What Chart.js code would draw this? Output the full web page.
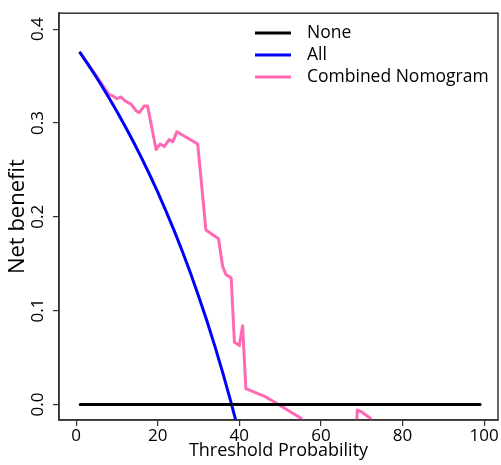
<!DOCTYPE html>
<html>
<head>
<meta charset="utf-8">
<script src="https://cdn.jsdelivr.net/npm/chart.js@4/dist/chart.umd.min.js"></script>
<style>
  html, body { margin: 0; padding: 0; background: #fff; }
</style>
</head>
<body>
<canvas id="dca" width="501" height="465"></canvas>
<script>
// values
var seriesNames = ["None", "All", "Combined Nomogram"];
var seriesColors = ["#000000", "#0000ff", "#ff69b4"];

var noneThr = [1, 99];
var noneNB = [0, 0];

var allThr = [1, 2, 3, 4, 5, 6, 7, 8, 9, 10, 12, 14, 16, 18, 20, 22, 24, 26, 28, 30, 32, 34, 36, 38, 40, 42];
var allNB = [0.3747, 0.3684, 0.3619, 0.3552, 0.3484, 0.3415, 0.3344, 0.3272, 0.3198, 0.3122,
  0.2966, 0.2802, 0.2631, 0.2451, 0.2263, 0.2064, 0.1855, 0.1635, 0.1403, 0.1157,
  0.0897, 0.0621, 0.0328, 0.0016, -0.0317, -0.0672];

var nomoThr = [1, 3, 5, 8, 9, 10, 11, 12, 13.5, 14.7, 15.5, 16.7, 17.5, 19.6, 20.6, 21.6, 22.8, 23.7, 24.7,
  29.8, 31.8, 34.9, 35.9, 36.7, 38, 38.8, 40, 40.8, 41.6, 46.5, 49.8, 55.1, 57, 68.5, 68.9, 70, 72.1, 74];
var nomoNB = [0.3747, 0.362, 0.350, 0.3304, 0.3288, 0.3259, 0.3277, 0.3235, 0.3199, 0.3129, 0.3111, 0.3182, 0.3182,
  0.2717, 0.2776, 0.2748, 0.2822, 0.2801, 0.2907, 0.2776, 0.186, 0.1765, 0.1473, 0.1385, 0.1349, 0.0662,
  0.0627, 0.0838, 0.0169, 0.008, -0.0007, -0.0148, -0.025, -0.05, -0.006, -0.008, -0.0148, -0.03];

var xTicks = [0, 20, 40, 60, 80, 100];
var yTicks = [0, 0.1, 0.2, 0.3, 0.4];

var toPoints = (xs, ys) => xs.map((x, i) => ({ x: x, y: ys[i] }));

var boxPlugin = {
  id: "box",
  afterDraw: (chart) => {
    var ctx = chart.ctx;
    var a = chart.chartArea;
    ctx.save();
    ctx.strokeStyle = "#333";
    ctx.lineWidth = 1.5;
    ctx.strokeRect(a.left, a.top, a.right - a.left, a.bottom - a.top);
    ctx.restore();
  }
};

// legend drawn inside the plot, top right like the R output
var legendPlugin = {
  id: "insideLegend",
  afterDraw: (chart) => {
    var ctx = chart.ctx;
    ctx.save();
    ctx.font = "17.5px 'Open Sans'";
    ctx.textBaseline = "middle";
    ctx.fillStyle = "#000";
    ctx.lineWidth = 3;
    seriesNames.forEach((name, i) => {
      var y = 33 + i * 22;
      ctx.strokeStyle = seriesColors[i];
      ctx.beginPath();
      ctx.moveTo(255, y);
      ctx.lineTo(291, y);
      ctx.stroke();
      ctx.fillText(name, 307, y);
    });
    ctx.restore();
  }
};

var ctxDca = document.getElementById("dca").getContext("2d");
var chartDca = new Chart(ctxDca, {
  type: "scatter",
  data: {
    datasets: [
      { label: seriesNames[0], data: toPoints(noneThr, noneNB), borderColor: seriesColors[0] },
      { label: seriesNames[1], data: toPoints(allThr, allNB), borderColor: seriesColors[1] },
      { label: seriesNames[2], data: toPoints(nomoThr, nomoNB), borderColor: seriesColors[2] },
    ],
  },
  options: {
    responsive: false,
    animation: false,
    layout: { padding: { top: 10, right: 3, left: 0, bottom: 0 } },
    datasets: {
      scatter: { showLine: true, pointRadius: 0, borderWidth: 3, clip: 0, borderCapStyle: "round", borderJoinStyle: "round" }
    },
    scales: {
      x: {
        type: "linear",
        min: -4.2,
        max: 103.4,
        afterFit: (s) => { s.height = 45; },
        afterBuildTicks: (s) => { s.ticks = xTicks.map((v) => ({ value: v })); },
        grid: { drawOnChartArea: false, drawTicks: true, tickLength: 6, color: "#333", lineWidth: 1.2 },
        border: { display: true, color: "#333", width: 1.5 },
        ticks: { font: { family: "'Open Sans'", size: 17 }, color: "#000", padding: 0, maxRotation: 0 },
        title: { display: true, text: "Threshold Probability", font: { family: "'Open Sans'", size: 18 }, color: "#000", padding: 3 },
      },
      y: {
        type: "linear",
        min: -0.0166,
        max: 0.417,
        afterFit: (s) => { s.width = 59; },
        afterBuildTicks: (s) => { s.ticks = yTicks.map((v) => ({ value: v })); },
        grid: { drawOnChartArea: false, drawTicks: true, tickLength: 6, color: "#333", lineWidth: 1.2 },
        border: { display: true, color: "#333", width: 1.5 },
        ticks: {
          font: { family: "'Open Sans'", size: 17 },
          color: "#000",
          padding: 3,
          minRotation: 90,
          maxRotation: 90,
          crossAlign: "center",
          callback: (v) => v.toFixed(1),
        },
        title: { display: true, text: "Net benefit", font: { family: "'Open Sans'", size: 22 }, color: "#000", padding: 5 },
      },
    },
    plugins: {
      legend: { display: false },
      tooltip: { enabled: false },
    },
  },
  plugins: [boxPlugin, legendPlugin],
});
</script>
</body>
</html>
